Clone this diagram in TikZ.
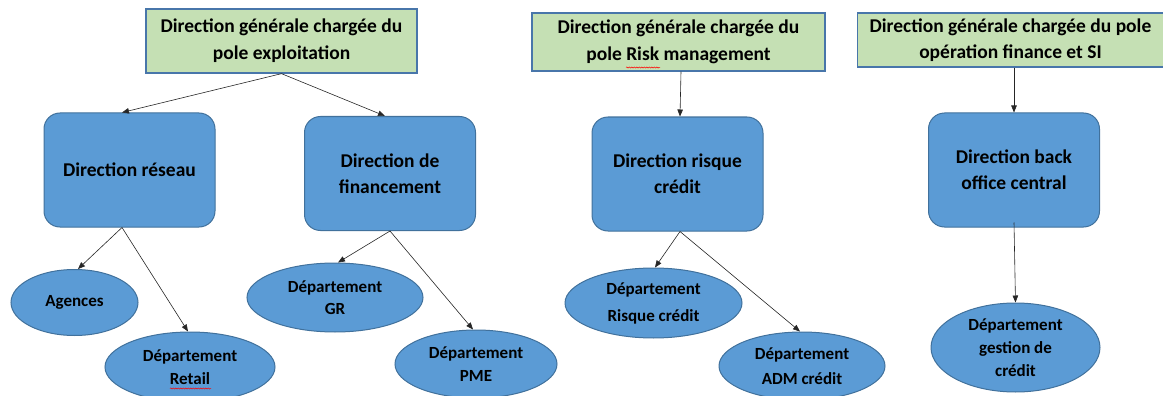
\documentclass[tikz,border=0pt]{standalone}
\usepackage{fontspec}
\setmainfont{Carlito}
\usetikzlibrary{arrows.meta,shapes.geometric,decorations.pathmorphing}
\definecolor{gfill}{RGB}{197,224,180}
\definecolor{gedge}{RGB}{72,118,170}
\definecolor{bfill}{RGB}{91,155,213}
\definecolor{bedge}{RGB}{65,113,156}
\begin{document}
\begin{tikzpicture}[x=1pt,y=-1pt,
  topbox/.style={draw=gedge, line width=1.3pt, fill=gfill, rectangle, inner sep=0pt,
    align=center, font=\bfseries\fontsize{19.5}{27}\selectfont},
  dirbox/.style={draw=bedge, line width=1pt, fill=bfill, rectangle, rounded corners=16pt,
    inner sep=0pt, minimum width=171pt, minimum height=114pt, align=center,
    font=\bfseries\fontsize{19.5}{26}\selectfont},
  dept/.style={draw=bedge, line width=1pt, fill=bfill, ellipse, inner sep=0pt,
    align=center, font=\bfseries\fontsize{17}{23}\selectfont},
  conn/.style={draw=black!85, line width=0.6pt, -{Triangle[length=7pt,width=5.5pt]}},
  spell/.style={draw=red, line width=0.5pt, decorate,
    decoration={snake, amplitude=0.6pt, segment length=2.5pt}}]
\useasboundingbox (0,0) rectangle (1163,396);
\clip (0,0) rectangle (1163,396);
% top boxes
\node[topbox, minimum width=271pt, minimum height=64pt] (b1) at (281.5,41)
  {Direction générale chargée du\\pole exploitation};
\node[topbox, minimum width=293pt, minimum height=58pt] (b2) at (678.5,42)
  {Direction générale chargée du\\pole Risk management};
\node[topbox, minimum width=306pt, minimum height=54pt, font=\bfseries\fontsize{19.5}{26}\selectfont] (b3) at (1010.5,40)
  {Direction générale chargée du pole\\opération finance et SI};
% direction boxes
\node[dirbox] (r1) at (129.5,170) {Direction réseau};
\node[dirbox] (r2) at (390,173.5) {Direction de\\financement};
\node[dirbox] (r3) at (677.5,174) {Direction risque\\crédit};
\node[dirbox] (r4) at (1014,170) {Direction back\\office central};
% departments
\node[dept, minimum width=127pt, minimum height=66pt] (e1) at (74.5,302.5) {Agences};
\node[dept, minimum width=170pt, minimum height=70pt] (e2) at (190,367) {Département\\Retail};
\node[dept, minimum width=176pt, minimum height=69pt, font=\bfseries\fontsize{17}{22}\selectfont] (e3) at (335,297.5) {Département\\GR};
\node[dept, minimum width=162pt, minimum height=68pt] (e4) at (476,364) {Département\\PME};
\node[dept, minimum width=177pt, minimum height=70pt, font=\bfseries\fontsize{17}{27}\selectfont] (e5) at (653.5,303) {Département\\Risque crédit};
\node[dept, minimum width=166pt, minimum height=68pt, font=\bfseries\fontsize{17}{25}\selectfont] (e6) at (802,366) {Département\\ADM crédit};
\node[dept, minimum width=169pt, minimum height=89pt] (e7) at (1015.5,347.5) {Département\\gestion de\\crédit};
% connectors
\draw[conn] (b1.south) -- ([xshift=-7.5pt]r1.north);
\draw[conn] (b1.south) -- ([xshift=-5pt]r2.north);
\draw[conn] ([xshift=-7.5pt]r1.south) -- ([xshift=3.5pt]e1.north);
\draw[conn] ([xshift=-7.5pt]r1.south) -- ([xshift=-2pt]e2.north);
\draw[conn] (r2.south) -- ([xshift=3pt]e3.north);
\draw[conn] (r2.south) -- ([xshift=-3pt]e4.north);
\draw[conn] ([xshift=2.5pt]b2.south) -- ([xshift=2.5pt]r3.north);
\draw[conn] ([xshift=2.5pt]r3.south) -- ([xshift=1.5pt]e5.north);
\draw[conn] ([xshift=2.5pt]r3.south) -- ([xshift=-2pt]e6.north);
\draw[conn] (b3.south -| r4.north) -- (r4.north);
\draw[conn] ([yshift=5pt]r4.south) -- (e7.north);
% spell-check underlines
\draw[spell] (626,67.5) -- (660,67.5);
\draw[spell] (170,388.5) -- (211,388.5);
\end{tikzpicture}
\end{document}
